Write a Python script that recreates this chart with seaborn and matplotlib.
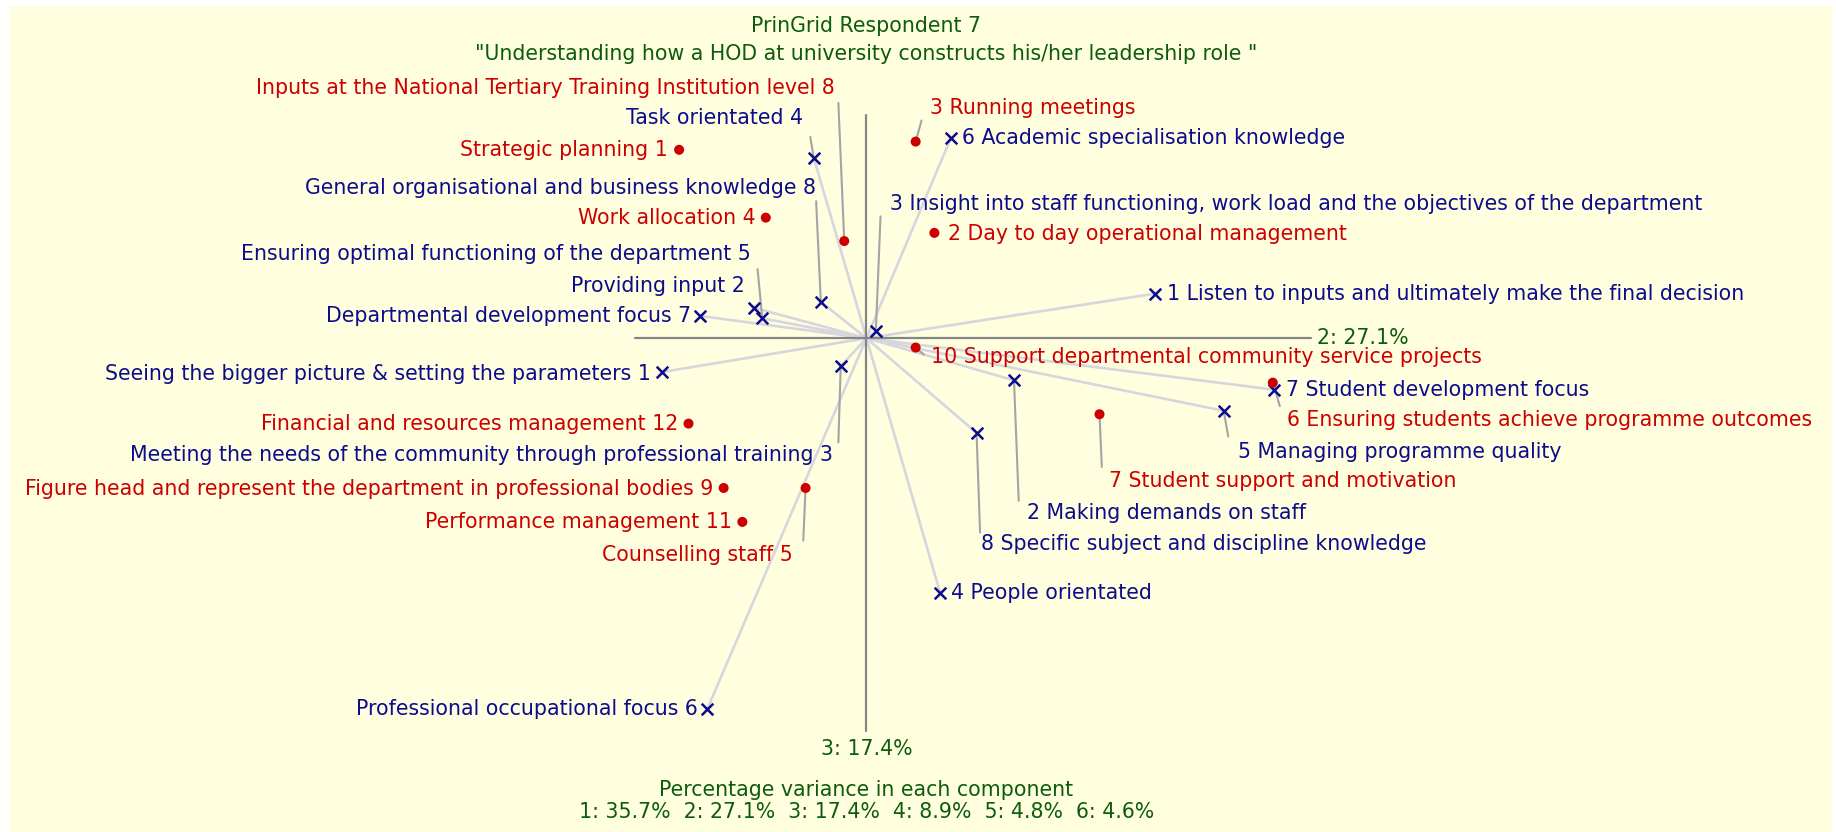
"""PrinGrid biplot for respondent 7: constructs (blue) and elements (red) on components 2 and 3."""
import matplotlib

matplotlib.use("Agg")
import matplotlib.pyplot as plt
import pandas as pd
import seaborn as sns

# ---- data: component scores (x = component 2, y = component 3) ----
left_labels = [
    "Seeing the bigger picture & setting the parameters 1",
    "Providing input 2",
    "Meeting the needs of the community through professional training 3",
    "Task orientated 4",
    "Ensuring optimal functioning of the department 5",
    "Professional occupational focus 6",
    "Departmental development focus 7",
    "General organisational and business knowledge 8",
]
left_x = [-1.75, -0.96, -0.22, -0.45, -0.89, -1.36, -1.42, -0.39]
left_y = [-0.29, 0.26, -0.24, 1.54, 0.17, -3.17, 0.19, 0.31]

right_labels = [
    "1 Listen to inputs and ultimately make the final decision",
    "2 Making demands on staff",
    "3 Insight into staff functioning, work load and the objectives of the department",
    "4 People orientated",
    "5 Managing programme quality",
    "6 Academic specialisation knowledge",
    "7 Student development focus",
    "8 Specific subject and discipline knowledge",
]
right_x = [2.46, 1.26, 0.08, 0.63, 3.05, 0.72, 3.48, 0.94]
right_y = [0.38, -0.36, 0.06, -2.18, -0.62, 1.71, -0.44, -0.81]

element_labels = [
    "Strategic planning 1",
    "2 Day to day operational management",
    "3 Running meetings",
    "Work allocation 4",
    "Counselling staff 5",
    "6 Ensuring students achieve programme outcomes",
    "7 Student support and motivation",
    "Inputs at the National Tertiary Training Institution level 8",
    "Figure head and represent the department in professional bodies 9",
    "10 Support departmental community service projects",
    "Performance management 11",
    "Financial and resources management 12",
]
element_x = [-1.60, 0.58, 0.42, -0.86, -0.52, 3.47, 1.99, -0.19, -1.22, 0.42, -1.06, -1.52]
element_y = [1.61, 0.90, 1.68, 1.03, -1.28, -0.38, -0.65, 0.83, -1.28, -0.08, -1.57, -0.73]

variance_pct = [35.7, 27.1, 17.4, 8.9, 4.8, 4.6]

# ---- layout: label offset (px, y down) and leader start offset (px) or None ----
left_layout = [
    ((-9, 2), None), ((-8, -19), None), ((-7, 76), (-2, 65)), ((-9, -34), (-3, -18)),
    ((-10, -55), (-4, -42)), ((-8, 0), None), ((-8, 0), None), ((-4, -97), (-4, -86)),
]
right_layout = [
    ((11, 0), None), ((11, 113), (4, 103)), ((12, -109), (4, -98)), ((9, 0), None),
    ((12, 35), (4, 22)), ((10, 0), None), ((10, 0), None), ((4, 95), (3, 85)),
]
element_layout = [
    ((-10, 0), None), ((12, 1), None), ((12, -29), (5, -18)), ((-9, 0), None),
    ((-11, 57), (-2, 45)), ((12, 32), (6, 20)), ((8, 57), (2, 45)), ((-8, -131), (-5, -118)),
    ((-9, 1), None), ((13, 8), (7, 6)), ((-9, 0), None), ((-9, 0), None),
]

BLUE = "#0c0c8c"
RED = "#cc0000"
GREEN = "#0d5c0d"
BG = "#ffffe0"
RAY = "#d6d6de"
LEADER = "#a4a4a4"
AXIS = "#858585"
PX_TO_PT = 0.843  # one pixel of the layout grid in points

sns.set_theme(style="white")
plt.rcParams["font.family"] = ["DejaVu Sans"]
FS = 14.8

fig = plt.figure(figsize=(18.36, 8.32), dpi=100, facecolor="white")
bg = fig.add_axes([9 / 1836, 0, 1823 / 1836, 826 / 832], zorder=0)
bg.set_facecolor(BG)
bg.set_xticks([])
bg.set_yticks([])
for spine in bg.spines.values():
    spine.set_visible(False)

ax = fig.add_axes([0, 0, 1, 1], zorder=1)
ax.patch.set_alpha(0)

poles = pd.DataFrame({
    "x": left_x + right_x,
    "y": left_y + right_y,
    "label": left_labels + right_labels,
})
elements = pd.DataFrame({"x": element_x, "y": element_y, "label": element_labels})

# rays from the origin to every construct pole
for px, py in zip(poles["x"], poles["y"]):
    ax.plot([0, px], [0, py], color=RAY, lw=1.9, zorder=1, solid_capstyle="round")

# component axes
ax.plot([-1.98, 3.80], [0, 0], color=AXIS, lw=1.6, zorder=2)
ax.plot([0, 0], [1.91, -3.36], color=AXIS, lw=1.6, zorder=2)
ax.text(3.85, 0, f"2: {variance_pct[1]}%", color=GREEN, fontsize=FS, ha="left", va="center")
ax.text(0, -3.51, f"3: {variance_pct[2]}%", color=GREEN, fontsize=FS, ha="center", va="center")

sns.scatterplot(data=poles, x="x", y="y", marker="x", s=70, color=BLUE,
                linewidth=1.8, ax=ax, zorder=4, legend=False)
sns.scatterplot(data=elements, x="x", y="y", marker="o", s=52, color=RED,
                edgecolor="none", ax=ax, zorder=4, legend=False)
ax.set_xlim(-7.40, 8.28)
ax.set_ylim(-4.22, 2.89)
ax.axis("off")


def place_labels(xs, ys, labels, layout, color):
    for x, y, text, ((dx, dy), lead) in zip(xs, ys, labels, layout):
        ax.annotate(text, xy=(x, y), xytext=(dx * PX_TO_PT, -dy * PX_TO_PT),
                    textcoords="offset points", ha="left" if dx > 0 else "right",
                    va="center", color=color, fontsize=FS, zorder=5)
        if lead is not None:
            # leader line from just beside the displaced label back to its marker
            ax.annotate("", xy=(x, y), xytext=(lead[0] * PX_TO_PT, -lead[1] * PX_TO_PT),
                        textcoords="offset points", zorder=3,
                        arrowprops=dict(arrowstyle="-", color=LEADER, lw=1.5,
                                        shrinkA=0, shrinkB=2))


place_labels(left_x, left_y, left_labels, left_layout, BLUE)
place_labels(right_x, right_y, right_labels, right_layout, BLUE)
place_labels(element_x, element_y, element_labels, element_layout, RED)

# titles and variance summary
ax.text(0, 2.67, "PrinGrid Respondent 7", color=GREEN, fontsize=FS, ha="center", va="center")
ax.text(0, 2.43, '"Understanding how a HOD at university constructs his/her leadership role "',
        color=GREEN, fontsize=FS, ha="center", va="center")
ax.text(0, -3.86, "Percentage variance in each component", color=GREEN, fontsize=FS,
        ha="center", va="center")
summary = "  ".join(f"{i + 1}: {v}%" for i, v in enumerate(variance_pct))
ax.text(0, -4.05, summary, color=GREEN, fontsize=FS, ha="center", va="center")

fig.savefig("out.png", dpi=100, facecolor="white")
